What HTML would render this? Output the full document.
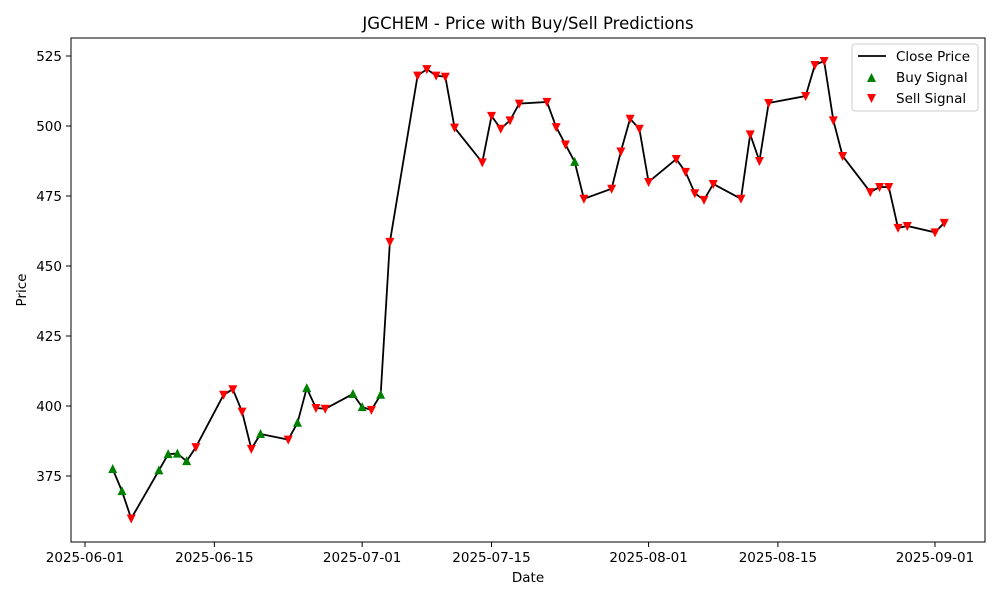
<!DOCTYPE html>
<html><head><meta charset="utf-8"><style>
body{margin:0;background:#fff;font-family:"Liberation Sans","DejaVu Sans",sans-serif;}
svg text{font-family:"DejaVu Sans","Liberation Sans",sans-serif;}
</style></head><body>
<svg id="chart" width="1000" height="600" xmlns="http://www.w3.org/2000/svg">
<rect width="1000" height="600" fill="#fff"/>
<text x="528" y="29" font-size="16.5" text-anchor="middle">JGCHEM - Price with Buy/Sell Predictions</text>
<g id="axes"></g>
<g id="marks"></g>
<rect x="71" y="38" width="914" height="504" fill="none" stroke="#000" stroke-width="1"/>
<text x="528" y="582" font-size="13.5" text-anchor="middle">Date</text>
<text transform="translate(26,290) rotate(-90)" font-size="13.5" text-anchor="middle">Price</text>
<g>
<rect x="852" y="44" width="126" height="67" fill="#fff" stroke="#ccc" rx="3"/>
<line x1="858" y1="56" x2="886" y2="56" stroke="#000" stroke-width="1.8"/>
<text x="896" y="61" font-size="13.5">Close Price</text>
<path d="M867,82 L876,82 L871.5,73 Z" fill="green"/>
<text x="896" y="82" font-size="13.5">Buy Signal</text>
<path d="M867,94 L876,94 L871.5,103 Z" fill="red"/>
<text x="896" y="103" font-size="13.5">Sell Signal</text>
</g>
</svg>
<script>
const dates=["2025-06-04","2025-06-05","2025-06-06","2025-06-09","2025-06-10","2025-06-11","2025-06-12","2025-06-13","2025-06-16","2025-06-17","2025-06-18","2025-06-19","2025-06-20","2025-06-23","2025-06-24","2025-06-25","2025-06-26","2025-06-27","2025-06-30","2025-07-01","2025-07-02","2025-07-03","2025-07-04","2025-07-07","2025-07-08","2025-07-09","2025-07-10","2025-07-11","2025-07-14","2025-07-15","2025-07-16","2025-07-17","2025-07-18","2025-07-21","2025-07-22","2025-07-23","2025-07-24","2025-07-25","2025-07-28","2025-07-29","2025-07-30","2025-07-31","2025-08-01","2025-08-04","2025-08-05","2025-08-06","2025-08-07","2025-08-08","2025-08-11","2025-08-12","2025-08-13","2025-08-14","2025-08-18","2025-08-19","2025-08-20","2025-08-21","2025-08-22","2025-08-25","2025-08-26","2025-08-27","2025-08-28","2025-08-29","2025-09-01","2025-09-02"];
const prices=[377.5,369.6,359.8,377,382.8,383,380.3,385.3,404,406,398,384.7,390,388,394,406.4,399.3,399,404.3,399.6,398.6,404,458.6,518,520.3,518,517.6,499.4,487,503.6,499,502,508,508.6,499.6,493.4,487.2,474,477.6,490.9,502.6,499,480,488.2,483.6,476,473.6,479.3,474,497,487.5,508.2,510.7,521.8,523.2,502,489.3,476.4,478.2,478.2,463.6,464.3,462,465.4];
const signals=["B","B","S","B","B","B","B","S","S","S","S","S","B","S","B","B","S","S","B","B","S","B","S","S","S","S","S","S","S","S","S","S","S","S","S","S","B","S","S","S","S","S","S","S","S","S","S","S","S","S","S","S","S","S","S","S","S","S","S","S","S","S","S","S"];
const yTicks=[375,400,425,450,475,500,525];
const xTicks=["2025-06-01","2025-06-15","2025-07-01","2025-07-15","2025-08-01","2025-08-15","2025-09-01"];
const NS="http://www.w3.org/2000/svg";
const t0=Date.UTC(2025,5,1);
function dayOf(s){const p=s.split("-");return (Date.UTC(+p[0],+p[1]-1,+p[2])-t0)/86400000;}
function xs(s){return 85+dayOf(s)*9.239;}
function ys(v){return 476-(v-375)*2.8;}
function mk(tag,attrs,parent){const e=document.createElementNS(NS,tag);for(const k in attrs)e.setAttribute(k,attrs[k]);parent.appendChild(e);return e;}
const axes=document.getElementById("axes"),marks=document.getElementById("marks");
yTicks.forEach(v=>{
  const g=mk("g",{},axes);
  
  
  mk("line",{x1:66,x2:71,y1:ys(v),y2:ys(v),stroke:"#000"},g);
  const t=mk("text",{x:62,y:ys(v)+5,"font-size":13.5,"text-anchor":"end"},g);t.textContent=v;
});
xTicks.forEach(d=>{
  const g=mk("g",{},axes);
  
  
  mk("line",{x1:xs(d),x2:xs(d),y1:542,y2:547,stroke:"#000"},g);
  const t=mk("text",{x:xs(d),y:562,"font-size":13.5,"text-anchor":"middle"},g);t.textContent=d;
});
const line=mk("polyline",{points:dates.map((d,i)=>xs(d)+","+ys(prices[i])).join(" "),fill:"none",stroke:"#000","stroke-width":1.8},marks);


dates.forEach((d,i)=>{
  const x=xs(d),y=ys(prices[i]);
  const buy=signals[i]==="B";
  const p=buy?`M${x-4.5},${y+4} L${x+4.5},${y+4} L${x},${y-5} Z`:`M${x-4.5},${y-4} L${x+4.5},${y-4} L${x},${y+5} Z`;
  const m=mk("path",{d:p,fill:buy?"green":"red"},marks);
  
  
});
</script>
</body></html>
